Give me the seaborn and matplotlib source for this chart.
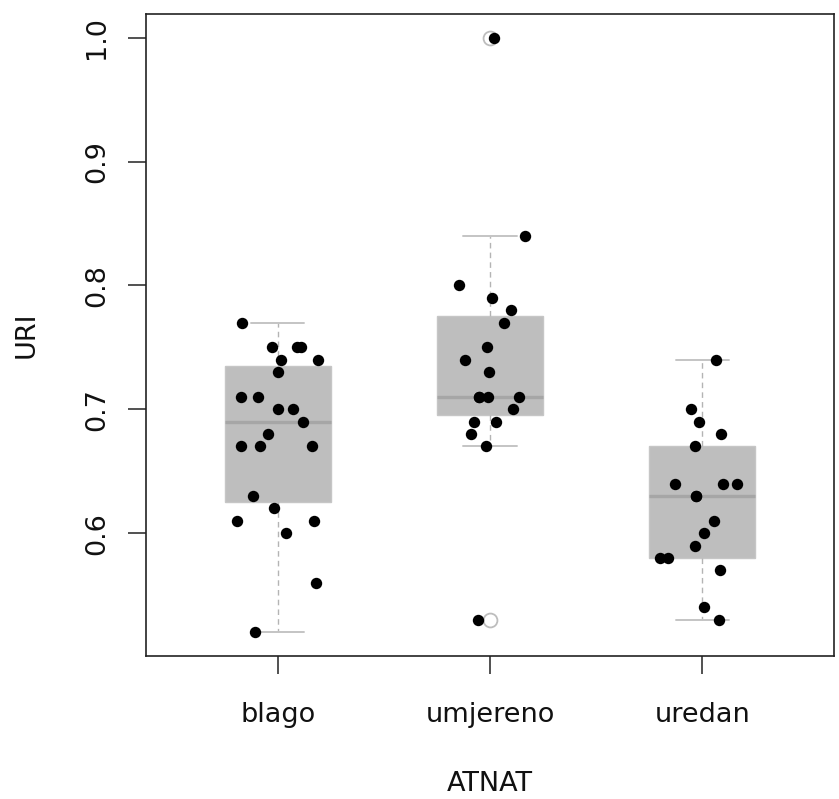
import numpy as np
import pandas as pd
import matplotlib
matplotlib.use("Agg")
import matplotlib.pyplot as plt
import seaborn as sns

categories = ["blago", "umjereno", "uredan"]
blago = [0.77, 0.75, 0.75, 0.75, 0.74, 0.74, 0.73, 0.71, 0.71, 0.70, 0.70, 0.69,
         0.68, 0.67, 0.67, 0.67, 0.63, 0.62, 0.61, 0.61, 0.60, 0.56, 0.52]
umjereno = [1.00, 0.84, 0.80, 0.79, 0.78, 0.77, 0.75, 0.74, 0.73, 0.71, 0.71, 0.71,
            0.71, 0.70, 0.69, 0.69, 0.68, 0.67, 0.53]
uredan = [0.74, 0.70, 0.69, 0.68, 0.67, 0.64, 0.64, 0.64, 0.63, 0.63, 0.61, 0.60,
          0.59, 0.58, 0.58, 0.57, 0.54, 0.53]
y_ticks = [0.6, 0.7, 0.8, 0.9, 1.0]
x_label = "ATNAT"
y_label = "URI"

groups = [blago, umjereno, uredan]
df = pd.DataFrame({
    "ATNAT": np.repeat(categories, [len(g) for g in groups]),
    "URI": np.concatenate(groups),
})


def tukey_stats(vals, label):
    v = np.sort(np.asarray(vals, dtype=float))
    n = len(v)
    n4 = np.floor((n + 3) / 2) / 2
    idx = np.array([1, n4, (n + 1) / 2, n + 1 - n4, n]) - 1
    fn = 0.5 * (v[np.floor(idx).astype(int)] + v[np.ceil(idx).astype(int)])
    q1, med, q3 = fn[1], fn[2], fn[3]
    iqr = q3 - q1
    lo_f, hi_f = q1 - 1.5 * iqr, q3 + 1.5 * iqr
    inside = v[(v >= lo_f - 1e-9) & (v <= hi_f + 1e-9)]
    fliers = v[(v < lo_f - 1e-9) | (v > hi_f + 1e-9)]
    return dict(label=label, med=med, q1=q1, q3=q3,
                whislo=inside.min(), whishi=inside.max(), fliers=fliers)


stats = [tukey_stats(g, c) for g, c in zip(groups, categories)]

sns.set_style("white")
plt.rcParams["font.family"] = ["DejaVu Sans"]

fig = plt.figure(figsize=(8.39, 7.99), dpi=100)
ax = fig.add_axes([146 / 839, 1 - 656 / 799, (834 - 146) / 839, (656 - 14) / 799])

box_gray = "#BEBEBE"
ax.bxp(stats, positions=range(len(categories)), widths=0.5, patch_artist=True,
       showfliers=True,
       boxprops=dict(facecolor=box_gray, edgecolor="#C6C6C6", linewidth=1.0),
       medianprops=dict(color="#A6A6A6", linewidth=2.4, solid_capstyle="butt"),
       whiskerprops=dict(color="#B4B4B4", linewidth=1.0, linestyle=(0, (4, 3))),
       capprops=dict(color="#C4C4C4", linewidth=1.4),
       capwidths=0.25,
       flierprops=dict(marker="o", markerfacecolor="white", markeredgecolor="#BDBDBD",
                       markersize=10, markeredgewidth=1.3),
       manage_ticks=False)

np.random.seed(7)
sns.stripplot(data=df, x="ATNAT", y="URI", order=categories, jitter=0.2,
              color="black", size=8.2, linewidth=0, ax=ax, zorder=3)

ax.set_xlim(-0.62, 2.62)
ax.set_ylim(0.5008, 1.0192)
ax.set_yticks(y_ticks)
ax.set_yticklabels([f"{t:.1f}" for t in y_ticks], rotation=90, va="center")
ax.set_xticks(range(len(categories)))
ax.set_xticklabels(categories)
ax.tick_params(axis="both", direction="out", length=13, width=1.2, color="#333333",
               labelsize=19.5, labelcolor="#111111", pad=13, left=True, bottom=True)
ax.tick_params(axis="x", pad=20)
for s in ax.spines.values():
    s.set_visible(True)
    s.set_color("#222222")
    s.set_linewidth(1.2)
ax.set_xlabel(x_label, fontsize=19.5, labelpad=31, color="#111111")
ax.set_ylabel(y_label, fontsize=19.5, labelpad=32, color="#111111")

fig.savefig("out.png", dpi=100)
